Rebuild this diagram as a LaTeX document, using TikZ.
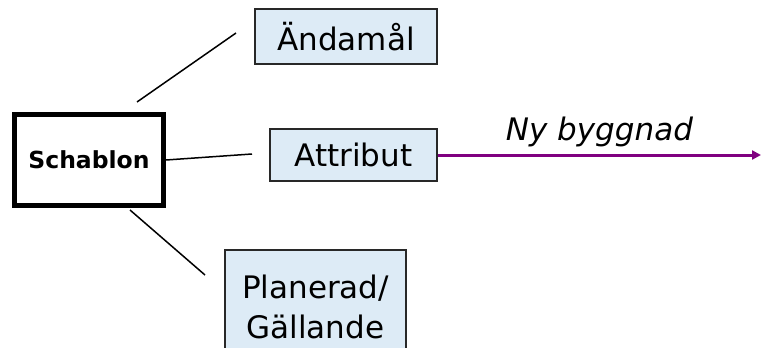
\documentclass[tikz,border=0pt]{standalone}
\usepackage{fontspec}
\setmainfont{DejaVu Sans}
\usepackage{xcolor}
\usetikzlibrary{arrows.meta}
\definecolor{boxblue}{RGB}{221,235,246}
\definecolor{boxline}{RGB}{40,40,40}
\definecolor{arrowpurple}{RGB}{128,0,128}
\tikzset{
    bluebox/.style={draw=boxline,fill=boxblue,line width=1.5pt,inner sep=0pt},
    mainbox/.style={draw=black,line width=5pt,inner sep=0pt}
}

\begin{document}
\begin{tikzpicture}[x=1pt,y=-1pt,font=\fontsize{31}{40}\selectfont]
\useasboundingbox (0,0) rectangle (761,348);
\path
    (89,160) node [mainbox,minimum width=149,minimum height=91,font=\fontsize{23.5}{28}\selectfont\bfseries] (schablon) {Schablon}
    (346,36.5) node [bluebox,minimum width=182,minimum height=55] (andamal) {Ändamål}
    (353.5,155) node [bluebox,minimum width=167,minimum height=52] (attribut) {Attribut}
    (315.5,307) node [bluebox,minimum width=181,minimum height=114,align=center] (planerad) {Planerad/\\Gällande};
\draw
    [line width=1.5pt]
    (137,102) -- (236,33)
    (schablon.east) -- (252,154)
    (130,210) -- (205,275);
\draw
    (attribut.east) [-{Triangle[length=9pt,width=9pt]},line width=3pt,draw=arrowpurple]
    -- (761,155) node [midway,above=3pt,font=\fontsize{31}{40}\selectfont\itshape] {Ny byggnad};
\end{tikzpicture}
\end{document}
